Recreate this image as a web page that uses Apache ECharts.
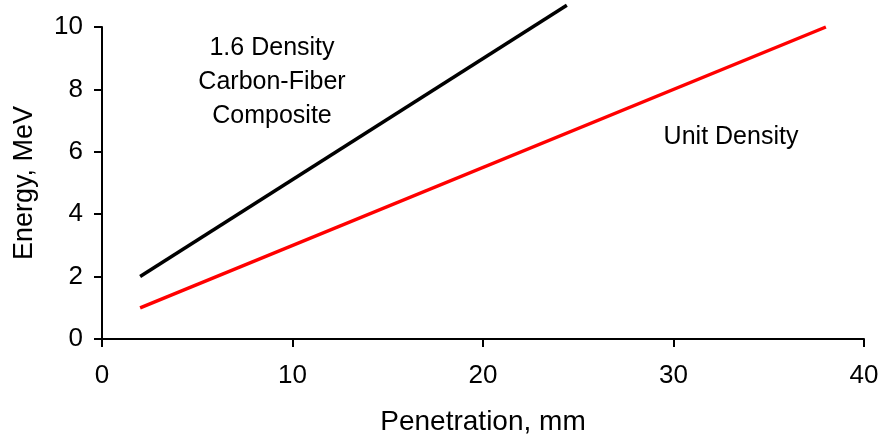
<!DOCTYPE html>
<html>
<head>
<meta charset="utf-8">
<script src="https://cdn.jsdelivr.net/npm/echarts@6/dist/echarts.min.js"></script>
<style>
  html, body { margin: 0; padding: 0; background: #fff; }
  #chart { width: 883px; height: 434px; }
</style>
</head>
<body>
<div id="chart"></div>
<script>
  // data: [penetration mm, energy MeV]
  var carbonFiber = [[2, 2], [24.4, 10.7]];
  var unitDensity = [[2, 1], [38, 10]];
  var xTicks = [0, 10, 20, 30, 40];
  var yTicks = [0, 2, 4, 6, 8, 10];

  var FONT = '"Liberation Sans", Arial, sans-serif';
  var chart = echarts.init(document.getElementById('chart'));

  chart.setOption({
    animation: false,
    grid: { left: 102, right: 19, top: 27, bottom: 95, outerBoundsMode: 'none' },
    xAxis: {
      type: 'value',
      min: xTicks[0],
      max: xTicks[xTicks.length - 1],
      interval: 10,
      name: 'Penetration, mm',
      nameLocation: 'middle',
      nameGap: 69,
      nameTextStyle: { fontFamily: FONT, fontSize: 28, color: '#000' },
      axisLine: { lineStyle: { color: '#000', width: 2 } },
      axisTick: { length: 8, lineStyle: { color: '#000', width: 2 } },
      axisLabel: { fontFamily: FONT, fontSize: 26, color: '#000', margin: 24 },
      splitLine: { show: false }
    },
    yAxis: {
      type: 'value',
      min: yTicks[0],
      max: yTicks[yTicks.length - 1],
      interval: 2,
      name: 'Energy, MeV',
      nameLocation: 'middle',
      nameGap: 64,
      nameTextStyle: { fontFamily: FONT, fontSize: 27, color: '#000' },
      axisLine: { show: true, lineStyle: { color: '#000', width: 2 } },
      axisTick: { show: true, length: 8, lineStyle: { color: '#000', width: 2 } },
      axisLabel: { fontFamily: FONT, fontSize: 26, color: '#000', margin: 19 },
      splitLine: { show: false }
    },
    series: [
      {
        name: '1.6 Density Carbon-Fiber Composite',
        type: 'line',
        data: carbonFiber,
        clip: false,
        showSymbol: false,
        lineStyle: { color: '#000', width: 3.5 }
      },
      {
        name: 'Unit Density',
        type: 'line',
        data: unitDensity,
        clip: false,
        showSymbol: false,
        lineStyle: { color: '#ff0000', width: 3.5 }
      }
    ],
    graphic: [
      {
        type: 'text',
        x: 272, y: 82,
        style: {
          text: '1.6 Density\nCarbon-Fiber\nComposite',
          align: 'center', verticalAlign: 'middle',
          lineHeight: 34,
          fontFamily: FONT, fontSize: 25, fill: '#000'
        }
      },
      {
        type: 'text',
        x: 731, y: 137,
        style: {
          text: 'Unit Density',
          align: 'center', verticalAlign: 'middle',
          fontFamily: FONT, fontSize: 25, fill: '#000'
        }
      }
    ]
  });
</script>
</body>
</html>
